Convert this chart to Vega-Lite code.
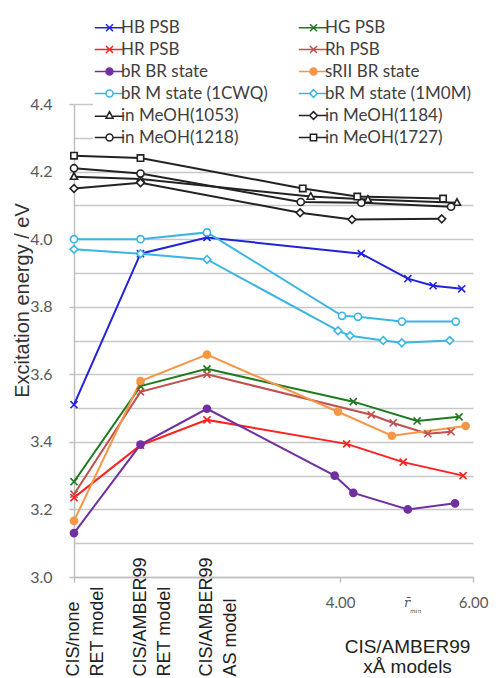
{
  "$schema": "https://vega.github.io/schema/vega-lite/v6.json",
  "width": 399,
  "height": 473,
  "autosize": "none",
  "padding": {"left": 74, "top": 104, "right": 25, "bottom": 101},
  "background": "white",
  "config": {"view": {"stroke": null}},
  "data": {
    "values": [
      {"series": "HB PSB", "x": 0, "y": 3.51},
      {"series": "HB PSB", "x": 1, "y": 3.957},
      {"series": "HB PSB", "x": 2, "y": 4.005},
      {"series": "HB PSB", "x": 4.32, "y": 3.957},
      {"series": "HB PSB", "x": 5.02, "y": 3.883},
      {"series": "HB PSB", "x": 5.40, "y": 3.862},
      {"series": "HB PSB", "x": 5.83, "y": 3.853},
      {"series": "HG PSB", "x": 0, "y": 3.282},
      {"series": "HG PSB", "x": 1, "y": 3.565},
      {"series": "HG PSB", "x": 2, "y": 3.616},
      {"series": "HG PSB", "x": 4.20, "y": 3.519},
      {"series": "HG PSB", "x": 5.16, "y": 3.462},
      {"series": "HG PSB", "x": 5.79, "y": 3.474},
      {"series": "HR PSB", "x": 0, "y": 3.235},
      {"series": "HR PSB", "x": 1, "y": 3.39},
      {"series": "HR PSB", "x": 2, "y": 3.465},
      {"series": "HR PSB", "x": 4.10, "y": 3.394},
      {"series": "HR PSB", "x": 4.95, "y": 3.34},
      {"series": "HR PSB", "x": 5.85, "y": 3.30},
      {"series": "Rh PSB", "x": 0, "y": 3.245},
      {"series": "Rh PSB", "x": 1, "y": 3.548},
      {"series": "Rh PSB", "x": 2, "y": 3.60},
      {"series": "Rh PSB", "x": 4.47, "y": 3.48},
      {"series": "Rh PSB", "x": 4.80, "y": 3.456},
      {"series": "Rh PSB", "x": 5.32, "y": 3.424},
      {"series": "Rh PSB", "x": 5.67, "y": 3.43},
      {"series": "bR BR state", "x": 0, "y": 3.13},
      {"series": "bR BR state", "x": 1, "y": 3.392},
      {"series": "bR BR state", "x": 2, "y": 3.498},
      {"series": "bR BR state", "x": 3.92, "y": 3.30},
      {"series": "bR BR state", "x": 4.20, "y": 3.249},
      {"series": "bR BR state", "x": 5.02, "y": 3.20},
      {"series": "bR BR state", "x": 5.73, "y": 3.218},
      {"series": "sRII BR state", "x": 0, "y": 3.166},
      {"series": "sRII BR state", "x": 1, "y": 3.58},
      {"series": "sRII BR state", "x": 2, "y": 3.658},
      {"series": "sRII BR state", "x": 3.97, "y": 3.489},
      {"series": "sRII BR state", "x": 4.78, "y": 3.418},
      {"series": "sRII BR state", "x": 5.89, "y": 3.447},
      {"series": "bR M state (1CWQ)", "x": 0, "y": 4.00},
      {"series": "bR M state (1CWQ)", "x": 1, "y": 4.00},
      {"series": "bR M state (1CWQ)", "x": 2, "y": 4.02},
      {"series": "bR M state (1CWQ)", "x": 4.03, "y": 3.773},
      {"series": "bR M state (1CWQ)", "x": 4.27, "y": 3.77},
      {"series": "bR M state (1CWQ)", "x": 4.93, "y": 3.756},
      {"series": "bR M state (1CWQ)", "x": 5.74, "y": 3.756},
      {"series": "bR M state (1M0M)", "x": 0, "y": 3.97},
      {"series": "bR M state (1M0M)", "x": 1, "y": 3.957},
      {"series": "bR M state (1M0M)", "x": 2, "y": 3.94},
      {"series": "bR M state (1M0M)", "x": 3.97, "y": 3.729},
      {"series": "bR M state (1M0M)", "x": 4.15, "y": 3.714},
      {"series": "bR M state (1M0M)", "x": 4.65, "y": 3.70},
      {"series": "bR M state (1M0M)", "x": 4.93, "y": 3.693},
      {"series": "bR M state (1M0M)", "x": 5.65, "y": 3.70},
      {"series": "in MeOH(1053)", "x": 0, "y": 4.185},
      {"series": "in MeOH(1053)", "x": 1, "y": 4.178},
      {"series": "in MeOH(1053)", "x": 3.56, "y": 4.126},
      {"series": "in MeOH(1053)", "x": 4.42, "y": 4.117},
      {"series": "in MeOH(1053)", "x": 5.76, "y": 4.108},
      {"series": "in MeOH(1184)", "x": 0, "y": 4.15},
      {"series": "in MeOH(1184)", "x": 1, "y": 4.167},
      {"series": "in MeOH(1184)", "x": 3.40, "y": 4.078},
      {"series": "in MeOH(1184)", "x": 4.18, "y": 4.058},
      {"series": "in MeOH(1184)", "x": 5.53, "y": 4.06},
      {"series": "in MeOH(1218)", "x": 0, "y": 4.21},
      {"series": "in MeOH(1218)", "x": 1, "y": 4.194},
      {"series": "in MeOH(1218)", "x": 3.41, "y": 4.11},
      {"series": "in MeOH(1218)", "x": 4.32, "y": 4.108},
      {"series": "in MeOH(1218)", "x": 5.67, "y": 4.096},
      {"series": "in MeOH(1727)", "x": 0, "y": 4.247},
      {"series": "in MeOH(1727)", "x": 1, "y": 4.24},
      {"series": "in MeOH(1727)", "x": 3.44, "y": 4.15},
      {"series": "in MeOH(1727)", "x": 4.26, "y": 4.126},
      {"series": "in MeOH(1727)", "x": 5.55, "y": 4.12}
    ]
  },
  "encoding": {
    "x": {
      "field": "x", "type": "quantitative",
      "scale": {"domain": [0, 6], "nice": false, "zero": false}
    },
    "y": {
      "field": "y", "type": "quantitative",
      "scale": {"domain": [3.0, 4.4], "nice": false, "zero": false},
      "axis": {
        "values": [3.0, 3.1, 3.2, 3.3, 3.4, 3.5, 3.6, 3.7, 3.8, 3.9, 4.0, 4.1, 4.2, 4.3, 4.4],
        "labelExpr": "round(datum.value * 10) % 2 == 0 ? format(datum.value, '.1f') : ''",
        "grid": true,
        "gridColor": "#c8c8c8",
        "gridWidth": 1.5,
        "domainColor": "#bfbfbf",
        "domainWidth": 1.5,
        "tickColor": "#bfbfbf",
        "tickSize": 5,
        "tickWidth": 1.5,
        "tickOpacity": {"condition": {"test": "round(datum.value * 10) % 2 == 1", "value": 0}, "value": 1},
        "labelFont": "Lato",
        "labelFontSize": 16,
        "labelColor": "#595959",
        "labelPadding": 17,
        "title": "Excitation energy / eV",
        "titleFont": "Liberation Sans",
        "titleFontSize": 20,
        "titleFontWeight": "normal",
        "titleColor": "#333333",
        "titleAngle": -90,
        "titleX": -52,
        "titleY": 196,
        "titleAlign": "center",
        "titleBaseline": "middle"
      }
    }
  },
  "resolve": {
    "scale": {"stroke": "independent", "fill": "independent", "shape": "independent"},
    "axis": {"x": "independent"}
  },
  "layer": [
    {
      "mark": {"type": "line"},
      "encoding": {
        "x": {
          "field": "x", "type": "quantitative",
          "axis": {
            "orient": "bottom",
            "values": [0, 4, 5, 5.13, 6],
            "labelExpr": "datum.value == 0 ? '' : datum.value == 5 ? 'r̄' : datum.value == 5.13 ? 'min' : format(datum.value, '.2f')",
            "labelOverlap": false,
            "labelBound": false,
            "labelFlush": false,
            "labelPadding": {"condition": [{"test": "datum.value == 5", "value": 14}, {"test": "datum.value == 5.13", "value": 25}], "value": 13},
            "labelFont": {"condition": {"test": "datum.value == 5 || datum.value == 5.13", "value": "DejaVu Serif"}, "value": "Lato"},
            "labelFontSize": {"condition": [{"test": "datum.value == 5", "value": 13}, {"test": "datum.value == 5.13", "value": 6}], "value": 15},
            "labelFontStyle": {"condition": {"test": "datum.value == 5 || datum.value == 5.13", "value": "italic"}, "value": "normal"},
            "labelColor": "#595959",
            "tickSize": 5,
            "tickWidth": 1.5,
            "tickColor": "#bfbfbf",
            "tickOpacity": {"condition": {"test": "datum.value == 0 || datum.value == 4 || datum.value == 6", "value": 1}, "value": 0},
            "domainColor": "#bfbfbf",
            "domainWidth": 1.5,
            "grid": false,
            "title": ["CIS/AMBER99", "xÅ models"],
            "titleFont": "Liberation Sans",
            "titleFontSize": 19,
            "titleFontWeight": "normal",
            "titleColor": "#222222",
            "titleLineHeight": 20,
            "titleX": 333,
            "titleY": 60,
            "titleAlign": "center",
            "titleBaseline": "top"
          }
        },
        "detail": {"field": "series"},
        "stroke": {
          "field": "series", "type": "nominal", "legend": null,
          "scale": {
            "domain": ["HB PSB", "HG PSB", "HR PSB", "Rh PSB", "bR BR state", "sRII BR state", "bR M state (1CWQ)", "bR M state (1M0M)", "in MeOH(1053)", "in MeOH(1184)", "in MeOH(1218)", "in MeOH(1727)"],
            "range": ["#2222dd", "#1f7a1f", "#ff2020", "#c0504d", "#7030a0", "#f79646", "#3bb6e3", "#3bb6e3", "#222222", "#222222", "#222222", "#222222"]
          }
        },
        "strokeWidth": {
          "field": "series", "type": "nominal", "legend": null,
          "scale": {
            "domain": ["HB PSB", "HG PSB", "HR PSB", "Rh PSB", "bR BR state", "sRII BR state", "bR M state (1CWQ)", "bR M state (1M0M)", "in MeOH(1053)", "in MeOH(1184)", "in MeOH(1218)", "in MeOH(1727)"],
            "range": [2, 2, 2, 1.8, 2, 1.2, 2, 2, 1.2, 1.2, 1.2, 1.2]
          }
        },
        "strokeOpacity": {
          "field": "series", "type": "nominal", "legend": null,
          "scale": {
            "domain": ["HB PSB", "HG PSB", "HR PSB", "Rh PSB", "bR BR state", "sRII BR state", "bR M state (1CWQ)", "bR M state (1M0M)", "in MeOH(1053)", "in MeOH(1184)", "in MeOH(1218)", "in MeOH(1727)"],
            "range": [1, 1, 1, 1, 1, 0.55, 1, 1, 1, 1, 1, 1]
          }
        }
      }
    },
    {
      "mark": {"type": "point", "size": 50, "strokeWidth": 1.6, "opacity": 1},
      "encoding": {
        "x": {"field": "x", "type": "quantitative", "axis": null},
        "stroke": {
          "field": "series", "type": "nominal", "legend": null,
          "scale": {
            "domain": ["HB PSB", "HG PSB", "HR PSB", "Rh PSB", "bR BR state", "sRII BR state", "bR M state (1CWQ)", "bR M state (1M0M)", "in MeOH(1053)", "in MeOH(1184)", "in MeOH(1218)", "in MeOH(1727)"],
            "range": ["#2222dd", "#1f7a1f", "#ff2020", "#c0504d", "#7030a0", "#f79646", "#3bb6e3", "#3bb6e3", "#222222", "#222222", "#222222", "#222222"]
          }
        },
        "fill": {
          "field": "series", "type": "nominal", "legend": null,
          "scale": {
            "domain": ["HB PSB", "HG PSB", "HR PSB", "Rh PSB", "bR BR state", "sRII BR state", "bR M state (1CWQ)", "bR M state (1M0M)", "in MeOH(1053)", "in MeOH(1184)", "in MeOH(1218)", "in MeOH(1727)"],
            "range": ["transparent", "transparent", "transparent", "transparent", "#7030a0", "#f79646", "white", "white", "white", "white", "white", "white"]
          }
        },
        "shape": {
          "field": "series", "type": "nominal", "legend": null,
          "scale": {
            "domain": ["HB PSB", "HG PSB", "HR PSB", "Rh PSB", "bR BR state", "sRII BR state", "bR M state (1CWQ)", "bR M state (1M0M)", "in MeOH(1053)", "in MeOH(1184)", "in MeOH(1218)", "in MeOH(1727)"],
            "range": [
              "M-1,-1L1,1M-1,1L1,-1",
              "M-1,-1L1,1M-1,1L1,-1",
              "M-1,-1L1,1M-1,1L1,-1",
              "M-1,-1L1,1M-1,1L1,-1",
              "M1,0A1,1,0,1,1,-1,0A1,1,0,1,1,1,0Z",
              "M1,0A1,1,0,1,1,-1,0A1,1,0,1,1,1,0Z",
              "M1,0A1,1,0,1,1,-1,0A1,1,0,1,1,1,0Z",
              "M0,-1.1L1.1,0L0,1.1L-1.1,0Z",
              "M0,-1.1L1,0.75L-1,0.75Z",
              "M0,-1.1L1.1,0L0,1.1L-1.1,0Z",
              "M1,0A1,1,0,1,1,-1,0A1,1,0,1,1,1,0Z",
              "M-0.9,-0.9L0.9,-0.9L0.9,0.9L-0.9,0.9Z"
            ]
          }
        }
      }
    },
    {
      "mark": {"type": "point", "size": 50, "strokeWidth": 1.5, "opacity": 0},
      "encoding": {
        "x": {
          "field": "x", "type": "quantitative",
          "axis": {
            "orient": "bottom",
            "values": [0, 1, 2],
            "labelExpr": "datum.value == 0 ? ['CIS/none', 'RET model'] : datum.value == 1 ? ['CIS/AMBER99', 'RET model'] : ['CIS/AMBER99', 'AS model']",
            "labelAngle": 270,
            "labelAlign": "left",
            "labelBaseline": "alphabetic",
            "labelPadding": 99,
            "labelOffset": 4.5,
            "labelLineHeight": 24,
            "labelFont": "Liberation Sans",
            "labelFontSize": 18,
            "labelColor": "#222222",
            "labelOverlap": false,
            "labelBound": false,
            "labelFlush": false,
            "ticks": false,
            "domain": false,
            "grid": false,
            "title": null
          }
        },
        "stroke": {
          "field": "series", "type": "nominal",
          "scale": {
            "domain": ["HB PSB", "HG PSB", "HR PSB", "Rh PSB", "bR BR state", "sRII BR state", "bR M state (1CWQ)", "bR M state (1M0M)", "in MeOH(1053)", "in MeOH(1184)", "in MeOH(1218)", "in MeOH(1727)"],
            "range": ["#2222dd", "#1f7a1f", "#ff2020", "#c0504d", "#7030a0", "#f79646", "#3bb6e3", "#3bb6e3", "#222222", "#222222", "#222222", "#222222"]
          },
          "legend": {
            "orient": "none", "legendX": 19, "legendY": -93, "columns": 2, "direction": "horizontal", "columnPadding": 27,
            "rowPadding": 4, "padding": 8, "fillColor": "white", "title": null, "symbolOpacity": 1,
            "labelFont": "Lato", "labelFontSize": 17, "labelColor": "#404040", "labelOffset": 3,
            "symbolSize": 49, "symbolStrokeWidth": 1.5
          }
        },
        "fill": {
          "field": "series", "type": "nominal",
          "scale": {
            "domain": ["HB PSB", "HG PSB", "HR PSB", "Rh PSB", "bR BR state", "sRII BR state", "bR M state (1CWQ)", "bR M state (1M0M)", "in MeOH(1053)", "in MeOH(1184)", "in MeOH(1218)", "in MeOH(1727)"],
            "range": ["transparent", "transparent", "transparent", "transparent", "#7030a0", "#f79646", "white", "white", "white", "white", "white", "white"]
          },
          "legend": {
            "orient": "none", "legendX": 19, "legendY": -93, "columns": 2, "direction": "horizontal", "columnPadding": 27,
            "rowPadding": 4, "padding": 8, "fillColor": "white", "title": null, "symbolOpacity": 1,
            "labelFont": "Lato", "labelFontSize": 17, "labelColor": "#404040", "labelOffset": 3,
            "symbolSize": 49, "symbolStrokeWidth": 1.5
          }
        },
        "shape": {
          "field": "series", "type": "nominal",
          "scale": {
            "domain": ["HB PSB", "HG PSB", "HR PSB", "Rh PSB", "bR BR state", "sRII BR state", "bR M state (1CWQ)", "bR M state (1M0M)", "in MeOH(1053)", "in MeOH(1184)", "in MeOH(1218)", "in MeOH(1727)"],
            "range": [
              "M-1,-1L1,1M-1,1L1,-1M-4.2,0L4.2,0",
              "M-1,-1L1,1M-1,1L1,-1M-4.2,0L4.2,0",
              "M-1,-1L1,1M-1,1L1,-1M-4.2,0L4.2,0",
              "M-1,-1L1,1M-1,1L1,-1M-4.2,0L4.2,0",
              "M-4.2,0L-1,0M1,0L4.2,0M1,0A1,1,0,1,1,-1,0A1,1,0,1,1,1,0Z",
              "M-4.2,0L-1,0M1,0L4.2,0M1,0A1,1,0,1,1,-1,0A1,1,0,1,1,1,0Z",
              "M-4.2,0L-1,0M1,0L4.2,0M1,0A1,1,0,1,1,-1,0A1,1,0,1,1,1,0Z",
              "M-4.2,0L-1.1,0M1.1,0L4.2,0M0,-1.1L1.1,0L0,1.1L-1.1,0Z",
              "M-4.2,0.2L-0.9,0.2M0.9,0.2L4.2,0.2M0,-1.1L1,0.75L-1,0.75Z",
              "M-4.2,0L-1.1,0M1.1,0L4.2,0M0,-1.1L1.1,0L0,1.1L-1.1,0Z",
              "M-4.2,0L-1,0M1,0L4.2,0M1,0A1,1,0,1,1,-1,0A1,1,0,1,1,1,0Z",
              "M-4.2,0L-0.9,0M0.9,0L4.2,0M-0.9,-0.9L0.9,-0.9L0.9,0.9L-0.9,0.9Z"
            ]
          },
          "legend": {
            "orient": "none", "legendX": 19, "legendY": -93, "columns": 2, "direction": "horizontal", "columnPadding": 27,
            "rowPadding": 4, "padding": 8, "fillColor": "white", "title": null, "symbolOpacity": 1,
            "labelFont": "Lato", "labelFontSize": 17, "labelColor": "#404040", "labelOffset": 3,
            "symbolSize": 49, "symbolStrokeWidth": 1.5
          }
        }
      }
    }
  ]
}
